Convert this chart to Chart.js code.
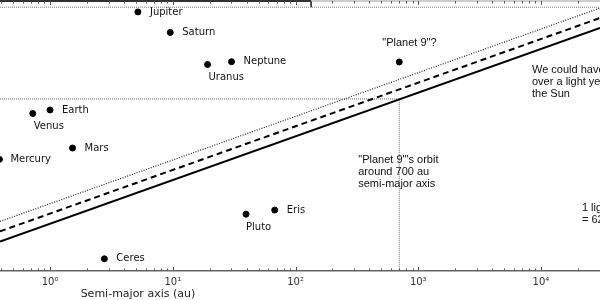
<!DOCTYPE html>
<html>
<head>
<meta charset="utf-8">
<script src="https://cdn.jsdelivr.net/npm/chart.js@4"></script>
<style>
  html, body { margin: 0; padding: 0; background: #fff; }
  #wrap { width: 600px; height: 300px; }
</style>
</head>
<body>
<div id="wrap"><canvas id="orbits"></canvas></div>
<script>
// bodies of the solar system: semi-major axis (au) and mass (Earth masses)
var planetNames = ['Mercury', 'Venus', 'Earth', 'Mars', 'Jupiter', 'Saturn', 'Uranus', 'Neptune', 'Ceres', 'Pluto', 'Eris', ''];
var semiMajorAu = [0.387, 0.723, 1.0, 1.524, 5.2, 9.54, 19.2, 30.1, 2.77, 39.5, 67.7, 700];
var massEarth = [0.055, 0.815, 1.0, 0.107, 317.8, 95.2, 14.5, 17.1, 0.00016, 0.0022, 0.0028, 16.8];

// diagonal limit lines, sampled at both ends of the axis
var limitAu = [0.391, 30260];
var solidMass = [0.00044, 124];
var dashedMass = [0.0008, 222];
var dottedMass = [0.00143, 400];

// reference lines
var topLineMass = 420;
var orbitMass = 1.91;
var orbitAu = 700;
var boxEdgeAu = 134;

var tickValues = [1, 10, 100, 1000, 10000];
var tickLabels = ['10\u2070', '10\u00b9', '10\u00b2', '10\u00b3', '10\u2074'];

var xMin = 0.391, xMax = 30260;
var yMin = 7.8e-5, yMax = 604;

function pts(xs, ys) {
  return xs.map(function(x, i) { return {x: x, y: ys[i]}; });
}

// where each planet name sits relative to its dot
var labelPlace = {
  'Mercury': [11, 0, 'left'], 'Venus': [1, 13, 'left'], 'Earth': [12, 0, 'left'],
  'Mars': [12, 0, 'left'], 'Jupiter': [12, 0, 'left'], 'Saturn': [12, 0, 'left'],
  'Uranus': [1, 13, 'left'], 'Neptune': [12, 0, 'left'], 'Ceres': [12, 0, 'left'],
  'Pluto': [0, 13, 'left'], 'Eris': [12, 0, 'left']
};

var notes = [
  {au: 700, m: 16.8, dx: -17, dy: -19, lines: ['"Planet 9"?']},
  {au: 700, m: 16.8, dx: -41, dy: 98, lines: ['"Planet 9"\'s orbit', 'around 700 au', 'semi-major axis']},
  {au: 8450, m: 10.5, dx: 0, dy: 0, lines: ['We could have', 'over a light yea', 'the Sun']},
  {au: 20000, m: 0.0032, dx: 4, dy: 0, lines: ['1 lig', '= 62']}
];

var annotate = {
  id: 'annotate',
  afterDatasetsDraw: function(chart) {
    var ctx = chart.ctx;
    var xs = chart.scales.x, ys = chart.scales.y;
    var area = chart.chartArea;
    ctx.save();

    // top frame line with inward ticks
    var xEdge = xs.getPixelForValue(boxEdgeAu);
    ctx.strokeStyle = '#333';
    ctx.lineWidth = 2;
    ctx.beginPath(); ctx.moveTo(area.left, area.top); ctx.lineTo(xEdge, area.top); ctx.stroke();
    ctx.strokeStyle = '#999';
    ctx.lineWidth = 1;
    ctx.beginPath(); ctx.moveTo(xEdge, area.top); ctx.lineTo(area.right, area.top); ctx.stroke();

    // inward minor / major ticks on bottom and top
    ctx.strokeStyle = '#555';
    ctx.lineWidth = 1;
    for (var e = -1; e <= 4; e++) {
      for (var k = 1; k <= 9; k++) {
        var v = k * Math.pow(10, e);
        if (v < xMin || v > xMax) continue;
        var px = Math.round(xs.getPixelForValue(v)) + 0.5;
        var len = k === 1 ? 4 : 2.5;
        ctx.beginPath(); ctx.moveTo(px, area.bottom); ctx.lineTo(px, area.bottom - len); ctx.stroke();
        ctx.beginPath(); ctx.moveTo(px, area.top); ctx.lineTo(px, area.top + len); ctx.stroke();
      }
    }

    // planet names
    ctx.fillStyle = '#111';
    ctx.font = '10px "DejaVu Sans"';
    ctx.textBaseline = 'middle';
    planetNames.forEach(function(name, i) {
      if (!labelPlace[name]) return;
      var p = labelPlace[name];
      ctx.textAlign = p[2];
      ctx.fillText(name, xs.getPixelForValue(semiMajorAu[i]) + p[0], ys.getPixelForValue(massEarth[i]) + p[1]);
    });

    // notes
    ctx.font = '11px "Liberation Sans"';
    ctx.textAlign = 'left';
    notes.forEach(function(n) {
      var x0 = xs.getPixelForValue(n.au) + n.dx;
      var y0 = ys.getPixelForValue(n.m) + n.dy;
      n.lines.forEach(function(t, j) { ctx.fillText(t, x0, y0 + j * 12); });
    });

    // axis title
    ctx.font = '11px "DejaVu Sans"';
    ctx.textAlign = 'center';
    ctx.fillStyle = '#222';
    ctx.fillText('Semi-major axis (au)', xs.getPixelForValue(5.2), 294);
    ctx.restore();
  }
};

var ctx = document.getElementById('orbits').getContext('2d');
var config = {
  type: 'scatter',
  data: {
    datasets: [{
      label: 'Bodies',
      data: pts(semiMajorAu, massEarth),
      backgroundColor: '#000',
      borderColor: '#000',
      pointRadius: 3,
      pointHoverRadius: 3
    }, {
      label: 'Solid limit',
      data: pts(limitAu, solidMass),
      showLine: true,
      pointRadius: 0,
      borderColor: '#000',
      borderWidth: 2
    }, {
      label: 'Dashed limit',
      data: pts(limitAu, dashedMass),
      showLine: true,
      pointRadius: 0,
      borderColor: '#000',
      borderWidth: 2,
      borderDash: [6, 4]
    }, {
      label: 'Dotted limit',
      data: pts(limitAu, dottedMass),
      showLine: true,
      pointRadius: 0,
      borderColor: '#222',
      borderWidth: 1.2,
      borderDash: [1, 1.5]
    }, {
      label: 'Top line',
      data: pts([xMin, xMax], [topLineMass, topLineMass]),
      showLine: true,
      pointRadius: 0,
      borderColor: '#777',
      borderWidth: 1,
      borderDash: [1, 1]
    }, {
      label: 'Orbit line',
      data: pts([xMin, orbitAu, orbitAu], [orbitMass, orbitMass, yMin]),
      showLine: true,
      pointRadius: 0,
      borderColor: '#666',
      borderWidth: 1,
      borderDash: [1, 1]
    }, {
      label: 'Box edge',
      data: pts([boxEdgeAu, boxEdgeAu], [yMax, topLineMass]),
      showLine: true,
      pointRadius: 0,
      borderColor: '#333',
      borderWidth: 1
    }]
  },
  options: {
    responsive: true,
    maintainAspectRatio: false,
    animation: false,
    layout: { autoPadding: false, padding: { top: 1, left: 0, right: 0, bottom: 0 } },
    plugins: {
      legend: { display: false },
      tooltip: { enabled: false }
    },
    scales: {
      x: {
        type: 'logarithmic',
        min: xMin,
        max: xMax,
        afterFit: function(scale) {
          scale.height = 29;
          scale.paddingLeft = 0;
          scale.paddingRight = 0;
        },
        grid: { display: false, drawTicks: false },
        border: { display: true, color: '#666', width: 1.5 },
        ticks: {
          autoSkip: false,
          maxRotation: 0,
          padding: 5,
          color: '#333',
          font: { family: 'DejaVu Sans', size: 10 },
          callback: function(value) {
            var i = tickValues.indexOf(value);
            return i >= 0 ? tickLabels[i] : '';
          }
        }
      },
      y: {
        type: 'logarithmic',
        min: yMin,
        max: yMax,
        display: false
      }
    }
  },
  plugins: [annotate]
};

var myChart = new Chart(ctx, config);
</script>
</body>
</html>
